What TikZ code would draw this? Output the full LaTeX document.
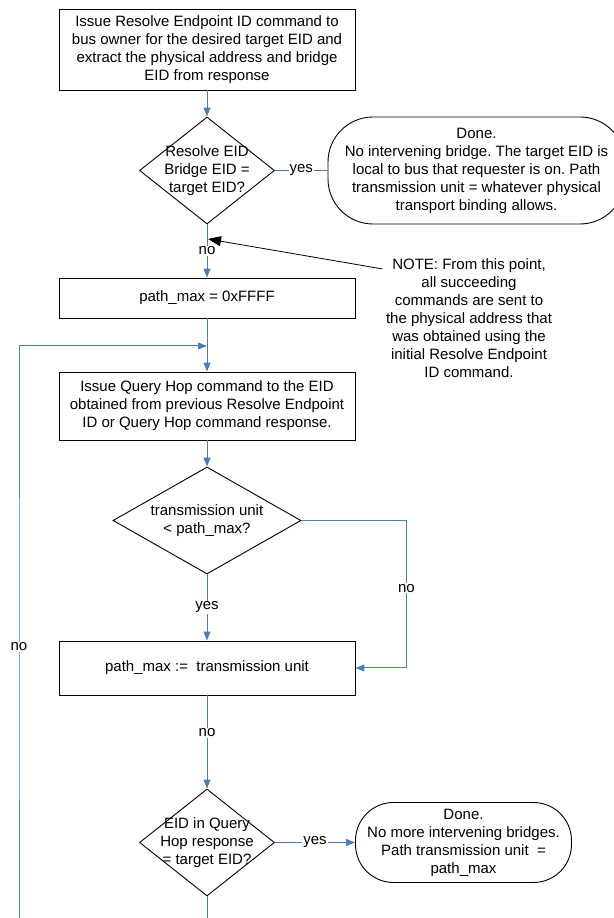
\documentclass[tikz,border=0pt]{standalone}
\usepackage{fontspec}
\setmainfont{Liberation Sans}
\usepackage{tikz}
\usetikzlibrary{shapes}
\usetikzlibrary{arrows.meta}
\definecolor{flowblue}{RGB}{74,126,187}
\frenchspacing

\begin{document}
\begin{tikzpicture}[x=1pt,y=1pt,>={Triangle[length=9pt,width=7pt]},
                    font=\fontsize{15pt}{18pt}\selectfont,
                    box node/.style={rectangle,draw,line width=0.9pt,minimum width=296pt,align=center},
                    test node/.style={diamond,draw,line width=0.9pt,inner sep=-8pt,aspect=1.26,minimum width=135pt,minimum height=107pt,align=center},
                    end node/.style={rectangle,draw,line width=0.9pt,align=center},
                    flow/.style={flowblue,line width=1pt},
                    tag/.style={fill=white,inner sep=1pt,text=black}]

		\useasboundingbox (0,0) rectangle (613,918);

		\node[box node,minimum height=81pt] (1) at (207,868.5) {Issue Resolve Endpoint ID command to\\bus owner for the desired target EID and\\extract the physical address and bridge\\EID from response};
		\node[test node] (2) [node distance=121pt,below of=1] {Resolve EID\\Bridge EID =\\target EID?};
		\node[end node,rounded corners=45pt,minimum width=297pt,minimum height=107pt] (3) [node distance=269.5pt,right of=2] {Done.\\No intervening bridge. The target EID is\\local to bus that requester is on. Path\\transmission unit = whatever physical\\transport binding allows.};
		\node[box node,minimum height=40pt] (4) [node distance=127.5pt,below of=2] {path\_max = 0xFFFF};
		\node[box node,minimum height=68pt] (5) [node distance=108pt,below of=4] {Issue Query Hop command to the EID\\obtained from previous Resolve Endpoint\\ID or Query Hop command response.};
		\node[test node,aspect=1.757,minimum width=188pt] (6) [node distance=114.5pt,below of=5] {transmission unit\\< path\_max?};
		\node[box node,minimum height=54pt] (7) [node distance=147.5pt,below of=6] {path\_max :=\ \ transmission unit};
		\node[test node] (8) [node distance=174.5pt,below of=7] {EID in Query\\Hop response\\= target EID?};
		\node[end node,rounded corners=38pt,minimum width=216pt,minimum height=80pt] (9) [node distance=256.5pt,right of=8] {Done.\\No more intervening bridges.\\Path transmission unit\ \ =\\path\_max};
		\node[align=center] (note) at (469,600) {NOTE: From this point,\\all succeeding\\commands are sent to\\the physical address that\\was obtained using the\\initial Resolve Endpoint\\ID command.};

		\coordinate (mark) at (208,679);
		\coordinate (back) at (207,572);

		\path[flow,->]
		(1) edge (2)
		(2) edge node[tag] {no} (4)
		(4) edge (5)
		(5) edge (6)
		(6) edge node[tag] {yes} (7)
		(7) edge node[tag,pos=0.4] {no} (8)
		(8) edge node[tag] {yes} (9);
		\path[flow] (2) edge node[tag] {yes} (3);

		\draw[flow,->] (6.east) -- ++(105,0) |- node[tag,pos=0.23] {no} (7.east);
		\draw[flow,->] (8.south) -- ++(0,-60) -| (19,271) node[tag] {no} |- (back);
		\draw[->,>={Triangle[length=13pt,width=10pt]},line width=0.8pt] ([yshift=-14pt]note.north west) -- (mark);
	\end{tikzpicture}
\end{document}
